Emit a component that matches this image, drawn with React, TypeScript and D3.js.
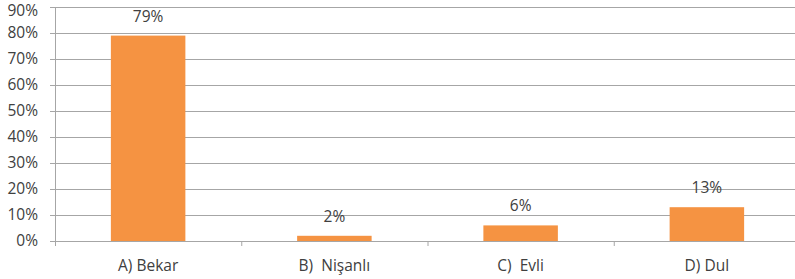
import React from "react";
import * as d3 from "d3";

const categories = ["A) Bekar", "B)  Nişanlı", "C)  Evli", "D) Dul"];
const values = [79, 2, 6, 13];
const valueLabels = ["79%", "2%", "6%", "13%"];
const yTicks = [0, 10, 20, 30, 40, 50, 60, 70, 80, 90];

export default function App() {
  const W = 795, H = 279;
  const x0 = 55, x1 = 800, yTop = 7, yBot = 241;
  const x = d3.scaleBand<string>().domain(categories).range([x0, x1]).paddingInner(0.6).paddingOuter(0.3);
  const y = d3.scaleLinear().domain([0, 90]).range([yBot, yTop]);
  const boundaries = d3.range(categories.length + 1).map(i => x0 + i * ((x1 - x0) / categories.length));
  const font = "'Open Sans', 'Liberation Sans', sans-serif";
  return (
    <svg width={W} height={H} style={{ position: "absolute", left: 0, top: 0, background: "#fff" }}>
      {yTicks.map(t => (
        <g key={t}>
          <line x1={x0 - 5} x2={W} y1={y(t) + 0.5} y2={y(t) + 0.5} stroke="#a6a6a6" strokeWidth={1} />
          <text x={38} y={Math.max(y(t), 10.5)} dy="0.35em" textAnchor="end" fontSize={15.5} fill="#404040" fontFamily={font}>{t}%</text>
        </g>
      ))}
      <line x1={x0 + 0.5} x2={x0 + 0.5} y1={yTop} y2={yBot} stroke="#a6a6a6" />
      {boundaries.map((b, i) => (
        <line key={i} x1={b + 0.5} x2={b + 0.5} y1={yBot} y2={yBot + 5} stroke="#a6a6a6" />
      ))}
      {categories.map((c, i) => (
        <g key={c}>
          <rect x={x(c)!} y={y(values[i])} width={x.bandwidth()} height={yBot - y(values[i])} fill="#F59342" />
          <text x={x(c)! + x.bandwidth() / 2} y={y(values[i]) - 14} textAnchor="middle" fontSize={15.5} fill="#404040" fontFamily={font}>{valueLabels[i]}</text>
          <text x={x(c)! + x.bandwidth() / 2} y={271} textAnchor="middle" fontSize={15.5} fill="#404040" fontFamily={font} style={{ whiteSpace: "pre" }}>{c}</text>
        </g>
      ))}
    </svg>
  );
}
